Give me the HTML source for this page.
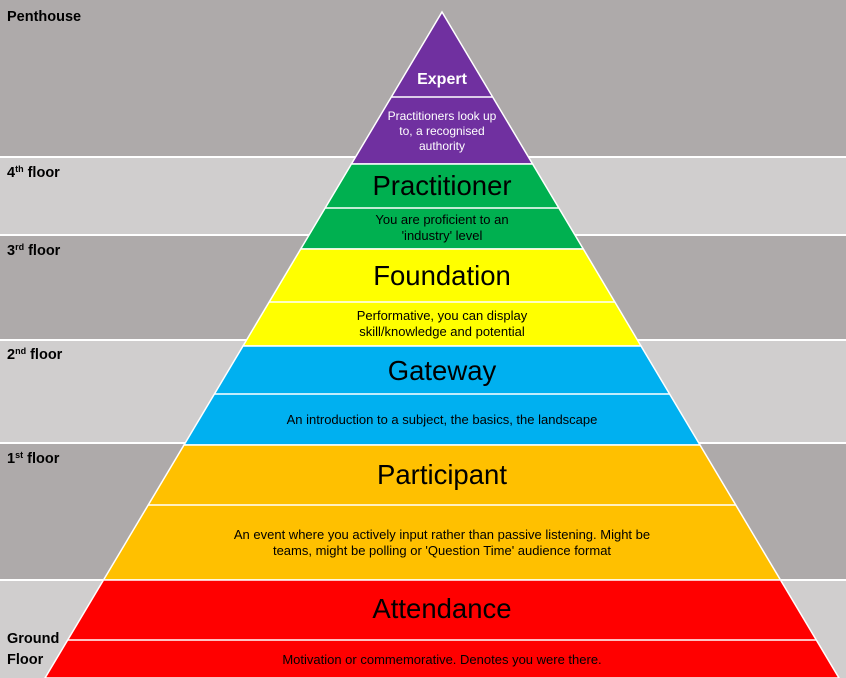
<!DOCTYPE html>
<html><head><meta charset="utf-8"><style>
html,body{margin:0;padding:0;background:#fff}
svg{display:block}
text{font-family:"Liberation Sans",sans-serif}
</style></head><body>
<svg width="846" height="678" viewBox="0 0 846 678" xmlns="http://www.w3.org/2000/svg">
<rect x="0" y="0" width="846" height="156" fill="#aeaaaa"/>
<rect x="0" y="158" width="846" height="76" fill="#d0cece"/>
<rect x="0" y="236" width="846" height="103" fill="#aeaaaa"/>
<rect x="0" y="341" width="846" height="101" fill="#d0cece"/>
<rect x="0" y="444" width="846" height="135" fill="#aeaaaa"/>
<rect x="0" y="581" width="846" height="97" fill="#d0cece"/>
<g font-weight="bold" font-size="14.5" fill="#000">
<text x="7" y="21">Penthouse</text>
<text x="7" y="177">4<tspan font-size="9" dy="-5">th</tspan><tspan dy="5"> floor</tspan></text>
<text x="7" y="255">3<tspan font-size="9" dy="-5">rd</tspan><tspan dy="5"> floor</tspan></text>
<text x="7" y="359">2<tspan font-size="9" dy="-5">nd</tspan><tspan dy="5"> floor</tspan></text>
<text x="7" y="463">1<tspan font-size="9" dy="-5">st</tspan><tspan dy="5"> floor</tspan></text>
<text x="7" y="643">Ground</text>
<text x="7" y="664">Floor</text>
</g>
<g stroke="#fff" stroke-width="1.5">
<polygon points="442,12 532.6,164 351.4,164" fill="#7030a0"/>
<polygon points="351.4,164 532.6,164 583.3,249 300.7,249" fill="#00b050"/>
<polygon points="300.7,249 583.3,249 641,346 243,346" fill="#ffff00"/>
<polygon points="243,346 641,346 700,445 184,445" fill="#00b0f0"/>
<polygon points="184,445 700,445 780.5,580 103.5,580" fill="#ffc000"/>
<polygon points="103.5,580 780.5,580 839,678 45,678" fill="#ff0000"/>
<line x1="391.3" y1="97" x2="492.7" y2="97"/>
<line x1="325.2" y1="208" x2="558.8" y2="208"/>
<line x1="269.2" y1="302" x2="614.8" y2="302"/>
<line x1="214.3" y1="394" x2="669.7" y2="394"/>
<line x1="148.2" y1="505" x2="735.8" y2="505"/>
<line x1="67.7" y1="640" x2="816.3" y2="640"/>
</g>
<g text-anchor="middle">
<text x="442" y="84" font-size="16" font-weight="bold" fill="#fff">Expert</text>
<g font-size="12" fill="#fff">
<text x="442" y="120">Practitioners look up</text>
<text x="442" y="135">to, a recognised</text>
<text x="442" y="150">authority</text>
</g>
<g fill="#000">
<text x="442" y="195" font-size="27.5">Practitioner</text>
<text x="442" y="224" font-size="13">You are proficient to an</text>
<text x="442" y="240" font-size="13">'industry' level</text>
<text x="442" y="285" font-size="27.5">Foundation</text>
<text x="442" y="320" font-size="13">Performative, you can display</text>
<text x="442" y="336" font-size="13">skill/knowledge and potential</text>
<text x="442" y="380" font-size="27.5">Gateway</text>
<text x="442" y="424" font-size="13">An introduction to a subject, the basics, the landscape</text>
<text x="442" y="484" font-size="27.5">Participant</text>
<text x="442" y="539" font-size="13">An event where you actively input rather than passive listening. Might be</text>
<text x="442" y="555" font-size="13">teams, might be polling or 'Question Time' audience format</text>
<text x="442" y="618" font-size="27.5">Attendance</text>
<text x="442" y="664" font-size="13">Motivation or commemorative. Denotes you were there.</text>
</g>
</g>
</svg>
</body></html>
